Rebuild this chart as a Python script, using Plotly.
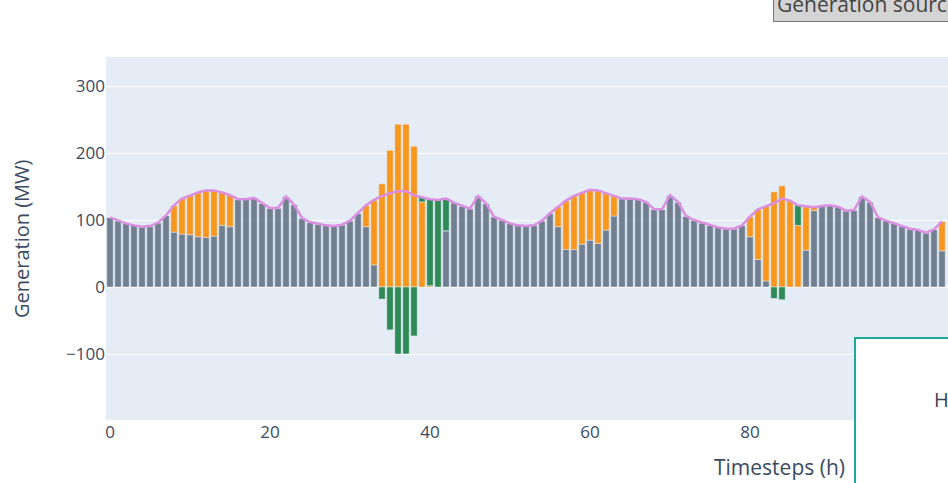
import plotly.graph_objects as go

timesteps = list(range(105))

conventional = [104, 99, 95, 92, 90, 91, 96, 107, 82, 79,
                78, 75, 74, 76, 92, 90, 131, 131, 133, 125,
                118, 118, 135, 123, 103, 97, 94, 92, 91, 93,
                99, 110, 90, 33, 0, 0, 0, 0, 0, 0,
                0, 0, 84, 126, 121, 117, 136, 125, 105, 100,
                95, 92, 91, 92, 99, 110, 90, 56, 56, 64,
                70, 65, 85, 106, 132, 132, 131, 127, 116, 116,
                137, 127, 106, 100, 96, 92, 89, 87, 87, 92,
                75, 41, 9, 0, 0, 0, 0, 55, 114, 121,
                122, 120, 114, 115, 135, 127, 104, 99, 95, 91,
                87, 85, 81, 86, 54]

solar = [0, 0, 0, 0, 0, 0, 0, 0, 40, 53,
         59, 66, 70, 68, 49, 47, 0, 0, 0, 0,
         0, 0, 0, 0, 0, 0, 0, 0, 0, 0,
         0, 0, 32, 97, 154, 204, 243, 243, 210, 127,
         2, 0, 0, 0, 0, 0, 0, 0, 0, 0,
         0, 0, 0, 0, 0, 0, 30, 73, 80, 77,
         75, 79, 55, 31, 0, 0, 0, 0, 0, 0,
         0, 0, 0, 0, 0, 0, 0, 0, 0, 0,
         30, 75, 112, 142, 151, 129, 92, 65, 5, 0,
         0, 0, 0, 0, 0, 0, 0, 0, 0, 0,
         0, 0, 0, 0, 44]

storage = [0, 0, 0, 0, 0, 0, 0, 0, 0, 0,
           0, 0, 0, 0, 0, 0, 0, 0, 0, 0,
           0, 0, 0, 0, 0, 0, 0, 0, 0, 0,
           0, 0, 0, 0, -18, -64, -100, -100, -73, 7,
           129, 130, 48, 0, 0, 0, 0, 0, 0, 0,
           0, 0, 0, 0, 0, 0, 0, 0, 0, 0,
           0, 0, 0, 0, 0, 0, 0, 0, 0, 0,
           0, 0, 0, 0, 0, 0, 0, 0, 0, 0,
           0, 0, 0, -17, -19, 0, 30, 0, 0, 0,
           0, 0, 0, 0, 0, 0, 0, 0, 0, 0,
           0, 0, 0, 0, 0]

demand = [104, 99, 95, 92, 90, 91, 96, 107, 122, 132,
          137, 141, 144, 144, 141, 137, 131, 131, 133, 125,
          118, 118, 135, 123, 103, 97, 94, 92, 91, 93,
          99, 110, 122, 130, 136, 140, 143, 143, 137, 134,
          131, 130, 132, 126, 121, 117, 136, 125, 105, 100,
          95, 92, 91, 92, 99, 110, 120, 129, 136, 141,
          145, 144, 140, 137, 132, 132, 131, 127, 116, 116,
          137, 127, 106, 100, 96, 92, 89, 87, 87, 92,
          105, 116, 121, 125, 132, 129, 122, 120, 119, 121,
          122, 120, 114, 115, 135, 127, 104, 99, 95, 91,
          87, 85, 81, 86, 98]

y_ticks = [-100, 0, 100, 200, 300]
x_ticks = [0, 20, 40, 60, 80, 100]

W, H = 948, 483
ML, MR, MT, MB = 106, 0, 57, 63
pw, ph = W - ML - MR, H - MT - MB

def px_x(p):
    return (p - ML) / pw

def px_y(p):
    return (H - MB - p) / ph

fig = go.Figure()
fig.add_trace(go.Bar(x=timesteps, y=conventional, name="Conventional",
                     marker_color="#708090", marker_line_width=0.5,
                     marker_line_color="#E5ECF6"))
fig.add_trace(go.Bar(x=timesteps, y=solar, name="Solar",
                     marker_color="#F8961E", marker_line_width=0.5,
                     marker_line_color="#E5ECF6"))
fig.add_trace(go.Bar(x=timesteps, y=storage, name="Storage",
                     marker_color="#2E8B57", marker_line_width=0.5,
                     marker_line_color="#E5ECF6"))
fig.add_trace(go.Scatter(x=timesteps, y=demand, name="Demand", mode="lines",
                         line=dict(color="#DA8FE0", width=2.5)))

fig.update_layout(
    width=W, height=H,
    margin=dict(l=ML, r=MR, t=MT, b=MB),
    template="plotly",
    barmode="relative",
    bargap=0.2,
    showlegend=False,
    font=dict(family="Open Sans, sans-serif", color="#3b4a63"),
    xaxis=dict(range=[-0.5, 104.75], tickvals=x_ticks, showgrid=False,
               tickfont=dict(size=17)),
    yaxis=dict(range=[-198.5, 343.3], tickvals=y_ticks,
               tickfont=dict(size=17)),
)

fig.add_shape(type="rect", xref="paper", yref="paper",
              x0=px_x(855), x1=1.2, y0=px_y(338), y1=px_y(520),
              fillcolor="white", line=dict(color="#1AA99B", width=2),
              layer="above")

fig.add_annotation(text="Generation (MW)", xref="paper", yref="paper",
                   x=px_x(22), y=px_y(239), xanchor="center", yanchor="middle",
                   textangle=-90, showarrow=False, font=dict(size=20))
fig.add_annotation(text="Timesteps (h)", xref="paper", yref="paper",
                   x=px_x(779), y=px_y(467), xanchor="center", yanchor="middle",
                   showarrow=False, font=dict(size=21))
fig.add_annotation(text="H", xref="paper", yref="paper",
                   x=px_x(932), y=px_y(399), xanchor="left", yanchor="middle",
                   showarrow=False, font=dict(size=20, color="#3d4556"))
fig.add_annotation(text="Generation source", xref="paper", yref="paper",
                   x=px_x(773), y=px_y(22), xanchor="left", yanchor="bottom",
                   showarrow=False, font=dict(size=21, color="#444"),
                   bgcolor="#D4D4D4", bordercolor="#777", borderwidth=1,
                   borderpad=3)

fig.write_html("out.html", config={"displayModeBar": False},
               post_script="document.body.style.margin='0';")
